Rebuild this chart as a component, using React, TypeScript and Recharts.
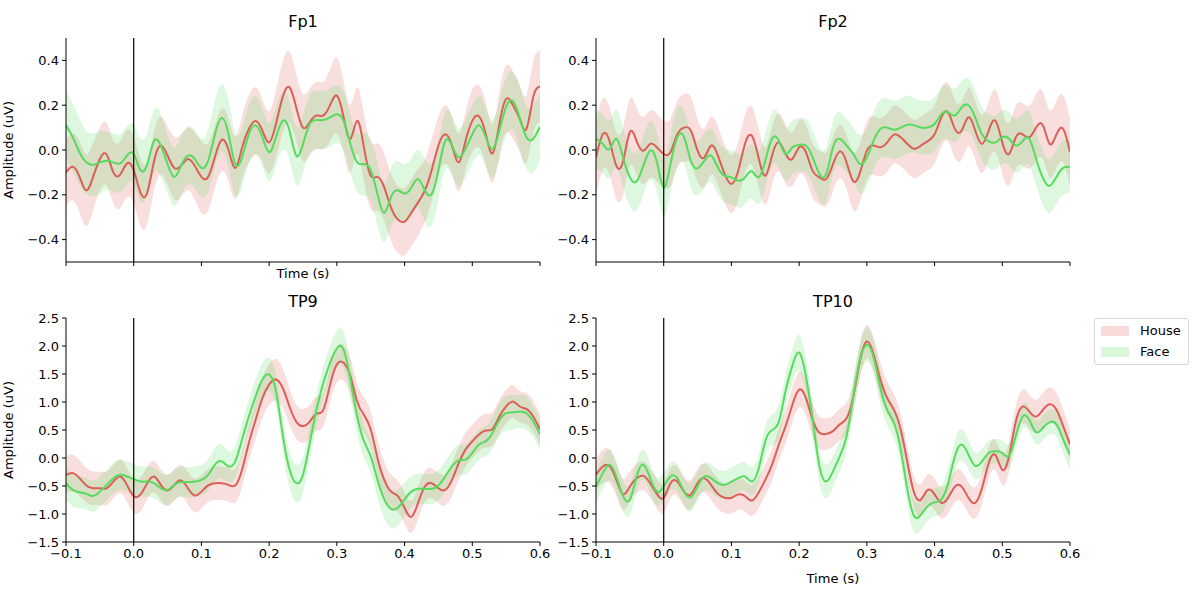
import React from "react"
import { ComposedChart, Line, Area, XAxis, YAxis, ReferenceLine } from "recharts"

const HOUSE_COLOR = "#db5f57"
const FACE_COLOR = "#57db5f"
const FONT = "'DejaVu Sans', sans-serif"

// time points (s)
const times = [
  -0.1, -0.09, -0.08, -0.07, -0.06, -0.05, -0.04, -0.03, -0.02, -0.01,
  0, 0.01, 0.02, 0.03, 0.04, 0.05, 0.06, 0.07, 0.08, 0.09,
  0.1, 0.11, 0.12, 0.13, 0.14, 0.15, 0.16, 0.17, 0.18, 0.19,
  0.2, 0.21, 0.22, 0.23, 0.24, 0.25, 0.26, 0.27, 0.28, 0.29,
  0.3, 0.31, 0.32, 0.33, 0.34, 0.35, 0.36, 0.37, 0.38, 0.39,
  0.4, 0.41, 0.42, 0.43, 0.44, 0.45, 0.46, 0.47, 0.48, 0.49,
  0.5, 0.51, 0.52, 0.53, 0.54, 0.55, 0.56, 0.57, 0.58, 0.59,
  0.6,
]

const xTicks = [-0.1, 0, 0.1, 0.2, 0.3, 0.4, 0.5, 0.6]
const topYTicks = [-0.4, -0.2, 0, 0.2, 0.4]
const bottomYTicks = [-1.5, -1, -0.5, 0, 0.5, 1, 1.5, 2, 2.5]

// Fp1
const fp1House = [
  -0.1, -0.075, -0.12, -0.18, -0.12, -0.04, -0.02, -0.1, -0.11, -0.06,
  -0.09, -0.19, -0.19, -0.05, 0.02, -0.025, -0.08, -0.07, -0.04, -0.07,
  -0.12, -0.12, -0.03, 0.045, 0.0, -0.08, 0.01, 0.094, 0.13, 0.087,
  0.034, 0.116, 0.236, 0.28, 0.19, 0.1, 0.124, 0.154, 0.154, 0.2,
  0.243, 0.146, 0.05, 0.13, 0.012, -0.115, -0.12, -0.167, -0.257, -0.31,
  -0.32, -0.28, -0.234, -0.18, -0.09, 0.02, 0.07, 0.02, -0.055, 0.04,
  0.13, 0.15, 0.07, -0.015, 0.116, 0.228, 0.2, 0.14, 0.094, 0.236,
  0.284,
]
const fp1HouseErr = [
  0.15, 0.15, 0.16, 0.16, 0.15, 0.14, 0.14, 0.14, 0.15, 0.15,
  0.15, 0.15, 0.14, 0.13, 0.13, 0.13, 0.14, 0.14, 0.14, 0.15,
  0.16, 0.15, 0.14, 0.14, 0.14, 0.14, 0.14, 0.15, 0.15, 0.14,
  0.14, 0.15, 0.16, 0.16, 0.15, 0.15, 0.15, 0.15, 0.15, 0.16,
  0.17, 0.16, 0.15, 0.15, 0.15, 0.15, 0.15, 0.15, 0.15, 0.15,
  0.15, 0.15, 0.15, 0.14, 0.14, 0.13, 0.13, 0.13, 0.13, 0.13,
  0.14, 0.14, 0.14, 0.13, 0.14, 0.15, 0.15, 0.15, 0.15, 0.16,
  0.16,
]
const fp1Face = [
  0.11, 0.057, -0.01, -0.055, -0.066, -0.055, -0.048, -0.055, -0.06, -0.025,
  -0.018, -0.09, -0.063, 0.04, 0.02, -0.063, -0.12, -0.07, -0.025, -0.04,
  -0.08, -0.048, 0.07, 0.143, 0.07, -0.063, -0.033, 0.07, 0.11, 0.057,
  -0.01, 0.057, 0.13, 0.087, -0.025, 0.027, 0.116, 0.134, 0.134, 0.146,
  0.16, 0.13, 0.027, -0.055, -0.063, -0.09, -0.197, -0.28, -0.21, -0.18,
  -0.194, -0.167, -0.13, -0.18, -0.197, -0.09, 0.04, 0.02, -0.033, 0.005,
  0.07, 0.11, 0.057, 0.005, 0.087, 0.194, 0.218, 0.146, 0.057, 0.05,
  0.104,
]
const fp1FaceErr = [
  0.15, 0.15, 0.15, 0.14, 0.14, 0.14, 0.13, 0.13, 0.13, 0.13,
  0.13, 0.14, 0.14, 0.14, 0.14, 0.13, 0.13, 0.13, 0.13, 0.13,
  0.13, 0.14, 0.15, 0.15, 0.15, 0.14, 0.13, 0.13, 0.13, 0.13,
  0.13, 0.13, 0.13, 0.13, 0.13, 0.13, 0.13, 0.13, 0.13, 0.13,
  0.13, 0.13, 0.13, 0.13, 0.14, 0.14, 0.14, 0.13, 0.13, 0.13,
  0.13, 0.13, 0.13, 0.14, 0.14, 0.13, 0.13, 0.13, 0.13, 0.13,
  0.13, 0.13, 0.13, 0.13, 0.13, 0.13, 0.13, 0.14, 0.14, 0.15,
  0.15,
]

// Fp2
const fp2House = [
  -0.033, 0.07, 0.04, -0.07, -0.05, 0.08, 0.04, -0.003, 0.027, 0.012,
  -0.018, -0.01, 0.07, 0.1, 0.087, -0.003, -0.033, 0.02, -0.025, -0.107,
  -0.152, -0.093, 0.027, 0.064, -0.033, -0.115, -0.025, 0.034, -0.018, -0.04,
  0.012, -0.01, -0.093, -0.122, -0.13, -0.063, -0.006, -0.055, -0.14, -0.1,
  -0.003, 0.02, 0.012, 0.034, 0.069, 0.057, 0.027, 0.005, 0.02, 0.04,
  0.07, 0.146, 0.168, 0.094, 0.087, 0.146, 0.087, 0.027, 0.087, 0.13,
  0.034, -0.018, 0.057, 0.07, 0.057, 0.1, 0.11, 0.027, 0.07, 0.094,
  -0.01,
]
const fp2HouseErr = [
  0.17, 0.16, 0.15, 0.15, 0.15, 0.15, 0.15, 0.15, 0.15, 0.15,
  0.15, 0.15, 0.15, 0.15, 0.15, 0.14, 0.13, 0.13, 0.13, 0.13,
  0.13, 0.13, 0.13, 0.13, 0.13, 0.13, 0.13, 0.13, 0.13, 0.12,
  0.12, 0.12, 0.12, 0.12, 0.12, 0.12, 0.12, 0.12, 0.13, 0.13,
  0.13, 0.13, 0.13, 0.13, 0.13, 0.13, 0.13, 0.13, 0.13, 0.13,
  0.13, 0.13, 0.13, 0.13, 0.13, 0.13, 0.13, 0.13, 0.13, 0.14,
  0.14, 0.14, 0.14, 0.14, 0.14, 0.15, 0.15, 0.15, 0.15, 0.15,
  0.15,
]
const fp2Face = [
  0.05, 0.027, 0.005, 0.05, -0.033, -0.122, -0.14, -0.07, -0.003, -0.055,
  -0.167, -0.063, 0.057, 0.057, -0.048, -0.082, -0.048, -0.025, -0.078, -0.115,
  -0.122, -0.137, -0.122, -0.095, -0.122, -0.048, 0.05, 0.042, -0.018, 0.012,
  0.022, 0.02, -0.033, -0.107, -0.107, 0.012, 0.05, 0.02, -0.018, -0.063,
  -0.033, 0.042, 0.094, 0.1, 0.09, 0.1, 0.113, 0.11, 0.1, 0.1,
  0.116, 0.16, 0.168, 0.154, 0.19, 0.2, 0.146, 0.07, 0.039, 0.034,
  0.057, 0.05, 0.02, 0.04, 0.05, -0.04, -0.125, -0.16, -0.12, -0.08,
  -0.075,
]
const fp2FaceErr = [
  0.13, 0.13, 0.13, 0.13, 0.13, 0.13, 0.13, 0.13, 0.13, 0.13,
  0.13, 0.13, 0.13, 0.12, 0.12, 0.12, 0.12, 0.12, 0.12, 0.12,
  0.12, 0.12, 0.12, 0.12, 0.12, 0.12, 0.12, 0.12, 0.12, 0.12,
  0.12, 0.12, 0.12, 0.12, 0.12, 0.12, 0.12, 0.12, 0.12, 0.13,
  0.13, 0.13, 0.13, 0.13, 0.13, 0.13, 0.13, 0.12, 0.12, 0.12,
  0.12, 0.12, 0.12, 0.12, 0.12, 0.12, 0.12, 0.12, 0.12, 0.12,
  0.12, 0.12, 0.12, 0.12, 0.12, 0.12, 0.12, 0.12, 0.12, 0.12,
  0.12,
]

// TP9
const tp9House = [
  -0.3, -0.27, -0.36, -0.49, -0.54, -0.54, -0.54, -0.42, -0.33, -0.48,
  -0.68, -0.65, -0.45, -0.33, -0.48, -0.58, -0.48, -0.4, -0.54, -0.67,
  -0.6, -0.49, -0.45, -0.45, -0.48, -0.49, -0.21, 0.27, 0.68, 1.07,
  1.31, 1.4, 1.25, 0.92, 0.65, 0.57, 0.65, 0.79, 0.86, 1.31,
  1.67, 1.7, 1.46, 1.01, 0.77, 0.51, 0.0, -0.39, -0.6, -0.68,
  -0.89, -1.05, -0.8, -0.51, -0.45, -0.54, -0.57, -0.39, -0.09, 0.15,
  0.3, 0.42, 0.49, 0.52, 0.74, 0.92, 1.01, 0.92, 0.875, 0.74,
  0.51,
]
const tp9HouseErr = [
  0.33, 0.33, 0.32, 0.31, 0.3, 0.3, 0.3, 0.3, 0.3, 0.3,
  0.3, 0.3, 0.29, 0.28, 0.28, 0.28, 0.28, 0.28, 0.29, 0.3,
  0.3, 0.3, 0.3, 0.3, 0.3, 0.3, 0.31, 0.32, 0.34, 0.36,
  0.37, 0.37, 0.35, 0.33, 0.3, 0.3, 0.3, 0.3, 0.3, 0.31,
  0.32, 0.32, 0.32, 0.32, 0.32, 0.32, 0.32, 0.32, 0.3, 0.28,
  0.28, 0.29, 0.29, 0.28, 0.27, 0.27, 0.28, 0.29, 0.3, 0.3,
  0.3, 0.3, 0.3, 0.3, 0.3, 0.3, 0.29, 0.28, 0.28, 0.28,
  0.28,
]
const tp9Face = [
  -0.45, -0.57, -0.61, -0.64, -0.68, -0.6, -0.48, -0.36, -0.3, -0.33,
  -0.375, -0.42, -0.42, -0.45, -0.54, -0.57, -0.48, -0.43, -0.43, -0.42,
  -0.39, -0.3, -0.12, -0.06, -0.15, -0.06, 0.33, 0.74, 1.1, 1.4,
  1.49, 1.2, 0.42, -0.2, -0.45, -0.3, 0.27, 0.86, 1.34, 1.7,
  1.96, 1.93, 1.4, 0.74, 0.3, 0.03, -0.39, -0.74, -0.91, -0.89,
  -0.74, -0.6, -0.55, -0.55, -0.55, -0.49, -0.33, -0.15, -0.04, -0.03,
  0.09, 0.24, 0.3, 0.45, 0.68, 0.8, 0.815, 0.83, 0.8, 0.65,
  0.42,
]
const tp9FaceErr = [
  0.3, 0.29, 0.29, 0.28, 0.28, 0.27, 0.27, 0.27, 0.27, 0.27,
  0.27, 0.27, 0.27, 0.27, 0.27, 0.27, 0.27, 0.27, 0.27, 0.27,
  0.27, 0.28, 0.3, 0.3, 0.28, 0.28, 0.29, 0.3, 0.3, 0.3,
  0.3, 0.3, 0.3, 0.32, 0.34, 0.32, 0.3, 0.3, 0.3, 0.3,
  0.32, 0.33, 0.33, 0.32, 0.3, 0.3, 0.32, 0.33, 0.34, 0.32,
  0.3, 0.28, 0.27, 0.27, 0.27, 0.27, 0.27, 0.27, 0.27, 0.27,
  0.27, 0.27, 0.27, 0.28, 0.3, 0.31, 0.31, 0.3, 0.3, 0.28,
  0.28,
]

// TP10
const tp10House = [
  -0.3, -0.15, -0.15, -0.39, -0.65, -0.51, -0.36, -0.32, -0.45, -0.64,
  -0.71, -0.45, -0.42, -0.6, -0.65, -0.45, -0.36, -0.48, -0.64, -0.71,
  -0.71, -0.65, -0.68, -0.76, -0.62, -0.39, -0.12, 0.24, 0.57, 0.95,
  1.22, 1.07, 0.68, 0.45, 0.43, 0.48, 0.6, 0.71, 1.1, 1.75,
  2.08, 1.85, 1.4, 1.07, 0.86, 0.51, -0.09, -0.63, -0.74, -0.57,
  -0.65, -0.8, -0.71, -0.51, -0.51, -0.71, -0.8, -0.54, -0.09, 0.05,
  -0.21, 0.03, 0.65, 0.92, 0.83, 0.74, 0.86, 0.96, 0.86, 0.57,
  0.24,
]
const tp10HouseErr = [
  0.28, 0.3, 0.3, 0.29, 0.28, 0.27, 0.26, 0.26, 0.26, 0.26,
  0.27, 0.27, 0.26, 0.26, 0.26, 0.26, 0.26, 0.27, 0.27, 0.27,
  0.28, 0.28, 0.28, 0.28, 0.28, 0.28, 0.28, 0.29, 0.3, 0.31,
  0.32, 0.31, 0.3, 0.29, 0.28, 0.28, 0.28, 0.28, 0.29, 0.3,
  0.3, 0.3, 0.3, 0.29, 0.28, 0.28, 0.28, 0.28, 0.28, 0.28,
  0.28, 0.28, 0.28, 0.28, 0.28, 0.28, 0.28, 0.28, 0.28, 0.27,
  0.27, 0.27, 0.28, 0.3, 0.3, 0.3, 0.3, 0.3, 0.3, 0.29,
  0.28,
]
const tp10Face = [
  -0.51, -0.27, -0.12, -0.33, -0.68, -0.74, -0.33, -0.12, -0.36, -0.6,
  -0.51, -0.33, -0.36, -0.6, -0.7, -0.51, -0.33, -0.36, -0.45, -0.48,
  -0.42, -0.36, -0.33, -0.42, -0.2, 0.3, 0.5, 0.65, 1.2, 1.65,
  1.88, 1.46, 0.68, -0.15, -0.42, -0.24, 0.03, 0.39, 1.1, 1.76,
  2.02, 1.79, 1.25, 0.86, 0.625, 0.15, -0.57, -1.04, -1.01, -0.86,
  -0.79, -0.74, -0.45, 0.03, 0.24, 0.06, -0.14, -0.06, 0.09, 0.12,
  0.09, 0.04, 0.39, 0.74, 0.68, 0.46, 0.54, 0.64, 0.6, 0.33,
  0.06,
]
const tp10FaceErr = [
  0.28, 0.28, 0.28, 0.28, 0.27, 0.27, 0.27, 0.27, 0.26, 0.25,
  0.25, 0.25, 0.25, 0.25, 0.25, 0.25, 0.25, 0.25, 0.25, 0.25,
  0.25, 0.25, 0.25, 0.25, 0.26, 0.27, 0.28, 0.3, 0.3, 0.31,
  0.32, 0.31, 0.3, 0.3, 0.3, 0.28, 0.27, 0.27, 0.28, 0.3,
  0.3, 0.3, 0.29, 0.28, 0.28, 0.28, 0.28, 0.28, 0.27, 0.26,
  0.25, 0.25, 0.26, 0.28, 0.28, 0.26, 0.24, 0.23, 0.22, 0.22,
  0.22, 0.22, 0.22, 0.22, 0.22, 0.22, 0.22, 0.22, 0.22, 0.24,
  0.26,
]

const Y_AXIS_W = 50
const X_AXIS_H = 30
const M_TOP = 10
const M_RIGHT = 12

function buildRows(house: number[], houseErr: number[], face: number[], faceErr: number[]) {
  return times.map((t, i) => ({
    t,
    house: house[i],
    face: face[i],
    houseBand: [house[i] - houseErr[i], house[i] + houseErr[i]],
    faceBand: [face[i] - faceErr[i], face[i] + faceErr[i]],
  }))
}

const fmt = (v: number, digits: number) => {
  const s = Math.abs(v).toFixed(digits)
  return v < -1e-9 ? "\u2212" + s : s
}

interface PanelProps {
  plotLeft: number
  plotTop: number
  plotW: number
  plotH: number
  title: string
  rows: ReturnType<typeof buildRows>
  yDomain: [number, number]
  yTicks: number[]
  showXLabels: boolean
}

function Panel({ plotLeft, plotTop, plotW, plotH, title, rows, yDomain, yTicks, showXLabels }: PanelProps) {
  const tickStyle = { fontSize: 13, fill: "#000", fontFamily: FONT }
  return (
    <>
      <div
        style={{
          position: "absolute",
          left: plotLeft + plotW / 2,
          top: plotTop - 25,
          transform: "translateX(-50%)",
          fontSize: 16,
          lineHeight: "18px",
          fontFamily: FONT,
          color: "#000",
          whiteSpace: "nowrap",
        }}
      >
        {title}
      </div>
      <div style={{ position: "absolute", left: plotLeft - Y_AXIS_W, top: plotTop - M_TOP }}>
        <ComposedChart
          width={Y_AXIS_W + plotW + M_RIGHT}
          height={M_TOP + plotH + X_AXIS_H}
          data={rows}
          margin={{ top: M_TOP, right: M_RIGHT, left: 0, bottom: 0 }}
        >
          <XAxis
            dataKey="t"
            type="number"
            domain={[-0.1, 0.6]}
            ticks={xTicks}
            allowDataOverflow
            height={X_AXIS_H}
            axisLine={{ stroke: "#000", strokeWidth: 1 }}
            tickLine={{ stroke: "#000", strokeWidth: 1 }}
            tickSize={4}
            tickMargin={3}
            tick={tickStyle}
            interval={0}
            tickFormatter={(v: number) => (showXLabels ? fmt(v, 1) : "")}
          />
          <YAxis
            type="number"
            domain={yDomain}
            ticks={yTicks}
            allowDataOverflow
            width={Y_AXIS_W}
            axisLine={{ stroke: "#000", strokeWidth: 1 }}
            tickLine={{ stroke: "#000", strokeWidth: 1 }}
            tickSize={4}
            tickMargin={3}
            tick={tickStyle}
            interval={0}
            tickFormatter={(v: number) => fmt(v, 1)}
          />
          <Area
            dataKey="houseBand"
            type="natural"
            stroke="none"
            fill={HOUSE_COLOR}
            fillOpacity={0.2}
            isAnimationActive={false}
            activeDot={false}
          />
          <Line
            dataKey="house"
            type="natural"
            stroke={HOUSE_COLOR}
            strokeWidth={2}
            dot={false}
            activeDot={false}
            isAnimationActive={false}
          />
          <Area
            dataKey="faceBand"
            type="natural"
            stroke="none"
            fill={FACE_COLOR}
            fillOpacity={0.2}
            isAnimationActive={false}
            activeDot={false}
          />
          <Line
            dataKey="face"
            type="natural"
            stroke={FACE_COLOR}
            strokeWidth={2}
            dot={false}
            activeDot={false}
            isAnimationActive={false}
          />
          <ReferenceLine x={0} stroke="#000" strokeWidth={1.2} ifOverflow="visible" />
        </ComposedChart>
      </div>
    </>
  )
}

const textStyle: React.CSSProperties = {
  position: "absolute",
  fontSize: 13,
  fontFamily: FONT,
  color: "#000",
  whiteSpace: "nowrap",
  lineHeight: "15px",
}

export default function App() {
  return (
    <div style={{ position: "absolute", left: 0, top: 0, width: 1200, height: 600, background: "#fff" }}>
      <Panel
        plotLeft={66}
        plotTop={38}
        plotW={474}
        plotH={224}
        title="Fp1"
        rows={buildRows(fp1House, fp1HouseErr, fp1Face, fp1FaceErr)}
        yDomain={[-0.5, 0.5]}
        yTicks={topYTicks}
        showXLabels={false}
      />
      <Panel
        plotLeft={596}
        plotTop={38}
        plotW={474}
        plotH={224}
        title="Fp2"
        rows={buildRows(fp2House, fp2HouseErr, fp2Face, fp2FaceErr)}
        yDomain={[-0.5, 0.5]}
        yTicks={topYTicks}
        showXLabels={false}
      />
      <Panel
        plotLeft={66}
        plotTop={318}
        plotW={474}
        plotH={224}
        title="TP9"
        rows={buildRows(tp9House, tp9HouseErr, tp9Face, tp9FaceErr)}
        yDomain={[-1.5, 2.5]}
        yTicks={bottomYTicks}
        showXLabels={true}
      />
      <Panel
        plotLeft={596}
        plotTop={318}
        plotW={474}
        plotH={224}
        title="TP10"
        rows={buildRows(tp10House, tp10HouseErr, tp10Face, tp10FaceErr)}
        yDomain={[-1.5, 2.5]}
        yTicks={bottomYTicks}
        showXLabels={true}
      />

      {/* axis labels */}
      <div style={{ ...textStyle, left: 8, top: 150, transform: "translate(-50%, -50%) rotate(-90deg)" }}>
        Amplitude (uV)
      </div>
      <div style={{ ...textStyle, left: 8, top: 430, transform: "translate(-50%, -50%) rotate(-90deg)" }}>
        Amplitude (uV)
      </div>
      <div style={{ ...textStyle, left: 303, top: 273, transform: "translate(-50%, -50%)" }}>Time (s)</div>
      <div style={{ ...textStyle, left: 833, top: 578, transform: "translate(-50%, -50%)" }}>Time (s)</div>

      {/* legend */}
      <div
        style={{
          position: "absolute",
          left: 1094,
          top: 318,
          width: 93,
          height: 45,
          border: "1px solid #d6d6d6",
          borderRadius: 3,
          background: "#fff",
          fontFamily: FONT,
          fontSize: 13,
        }}
      >
        {[
          { label: "House", color: HOUSE_COLOR },
          { label: "Face", color: FACE_COLOR },
        ].map((item, i) => (
          <div key={item.label} style={{ position: "absolute", left: 6, top: 4 + i * 21, height: 15, display: "flex", alignItems: "center" }}>
            <div style={{ width: 28, height: 10, background: item.color, opacity: 0.22 }} />
            <span style={{ marginLeft: 11, lineHeight: "15px" }}>{item.label}</span>
          </div>
        ))}
      </div>
    </div>
  )
}
